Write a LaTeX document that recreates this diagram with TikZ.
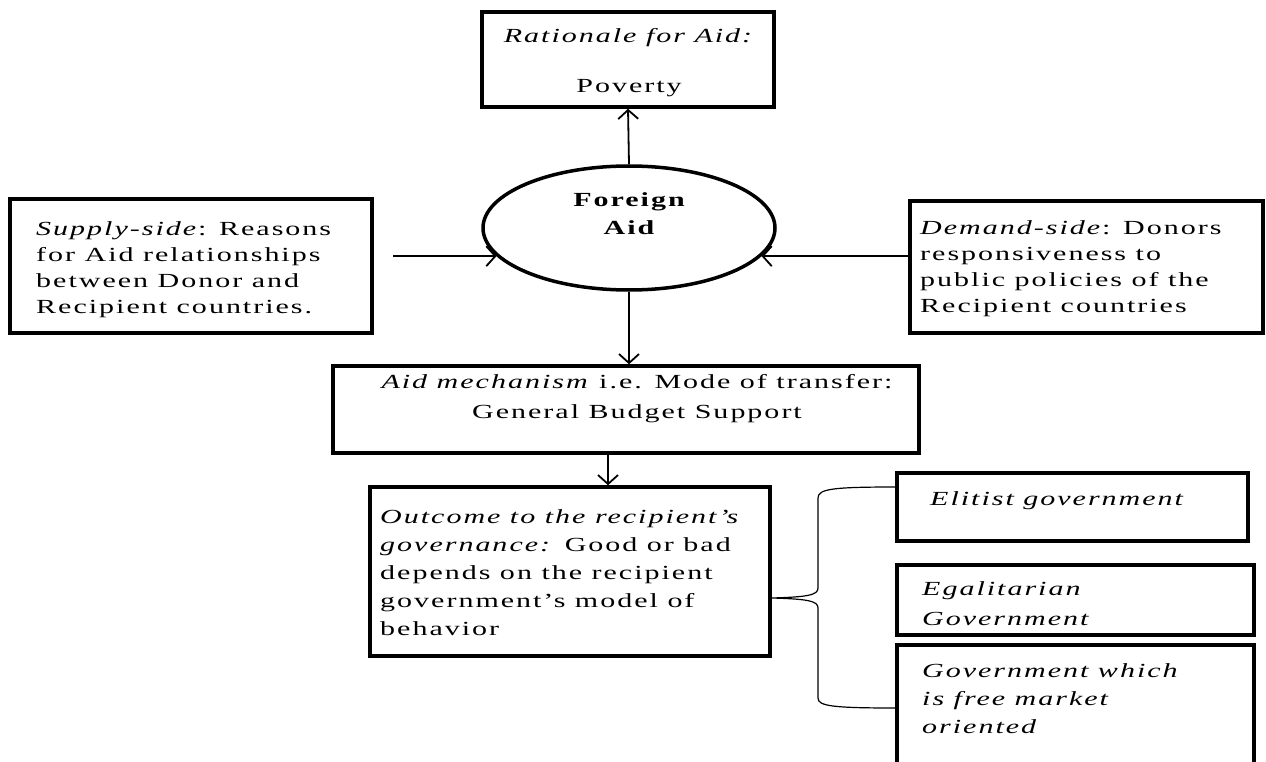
\documentclass[tikz,border=0pt]{standalone}
\usepackage{fontspec}
\setmainfont{Liberation Serif}[FakeStretch=1.5,LetterSpace=10]
\usetikzlibrary{arrows.meta,shapes.geometric,fit}
\newcommand{\fs}{\rule{0pt}{17pt}}
\begin{document}
\begin{tikzpicture}[x=1pt,y=-1pt,
  box/.style={draw, line width=3.5pt, inner sep=0pt},
  txt/.style={inner sep=0pt, font=\fontsize{20}{26}\selectfont},
  arr/.style={line width=1.8pt, -{Straight Barb[length=9pt,width=20pt,line width=1.8pt]}},
  bracel/.style={line width=1.2pt}]
\useasboundingbox (0,0) rectangle (1266,762);
\fill[white] (0,0) rectangle (1266,762);

% boxes
\node[box, fit={(482,12) (774,107)}] (top) {};
\node[draw, ellipse, line width=3.5pt, minimum width=292pt, minimum height=124pt, inner sep=0pt] (ell) at (629,228) {};
\node[box, fit={(10,199) (372,333)}] (lbox) {};
\node[box, fit={(910,201) (1263,333)}] (rbox) {};
\node[box, fit={(333,366) (919,453)}] (mid) {};
\node[box, fit={(370,487) (770,656)}] (bot) {};
\node[box, fit={(897,473) (1248,541)}] (elit) {};
\node[box, fit={(897,565) (1254,635)}] (egal) {};
\node[box, fit={(897,645) (1254,780)}] (free) {};

% texts
\node[txt, anchor=north, align=center] (toptxt) at (629,25) {\fs\textit{Rationale for Aid:}\\[24pt]Poverty};
\node[txt, anchor=north, align=center, font=\fontsize{20}{28}\selectfont\bfseries] (elltxt) at (629,189) {\fs Foreign\\Aid};
\node[txt, anchor=north west, align=left] (ltxt) at (36,218) {\fs\textit{Supply-side}: Reasons\\for Aid relationships\\between Donor and\\Recipient countries.};
\node[txt, anchor=north west, align=left] (rtxt) at (920,217) {\fs\textit{Demand-side}: Donors\\responsiveness to\\public policies of the\\Recipient countries};
\node[txt, anchor=north, align=center, font=\fontsize{20}{30}\selectfont] (midtxt) at (637,371) {\fs\textit{Aid mechanism} i.e. Mode of transfer:\\General Budget Support};
\node[txt, anchor=north west, align=left, font=\fontsize{20}{28}\selectfont] (bottxt) at (380,506) {\fs\textit{Outcome to the recipient's}\\\textit{governance:} Good or bad\\depends on the recipient\\government's model of\\behavior};
\node[txt, anchor=north west, align=left] (elittxt) at (930,488) {\fs\textit{Elitist government}};
\node[txt, anchor=north west, align=left, font=\fontsize{20}{30}\selectfont] (egaltxt) at (922,578) {\fs\textit{Egalitarian}\\\textit{Government}};
\node[txt, anchor=north west, align=left, font=\fontsize{20}{28}\selectfont] (freetxt) at (922,660) {\fs\textit{Government which}\\\textit{is free market}\\\textit{oriented}};

% connectors
\coordinate (lx) at (393,0);
\coordinate (ax) at (608,0);
\draw[arr] (ell.north) -- (top.south);
\draw[arr] (lx |- ell.192) -- (ell.192);
\draw[arr] (rbox.west |- ell.348) -- (ell.348);
\draw[arr] (ell.south) -- (ell.south |- mid.north);
\draw[arr] (ax |- mid.south) -- (ax |- bot.north);

% brace
\coordinate (bTop) at (elit.west |- 0,487);
\coordinate (bBot) at (free.west |- 0,708);
\coordinate (bTip) at (bot.east |- 0,598);
\draw[bracel] (bTop) .. controls (832,487) and (818,489) .. (818,498) -- (818,588)
  .. controls (818,595) and (808,597) .. (bTip)
  .. controls (808,599) and (818,601) .. (818,608) -- (818,698)
  .. controls (818,706) and (832,708) .. (bBot);
\end{tikzpicture}
\end{document}
